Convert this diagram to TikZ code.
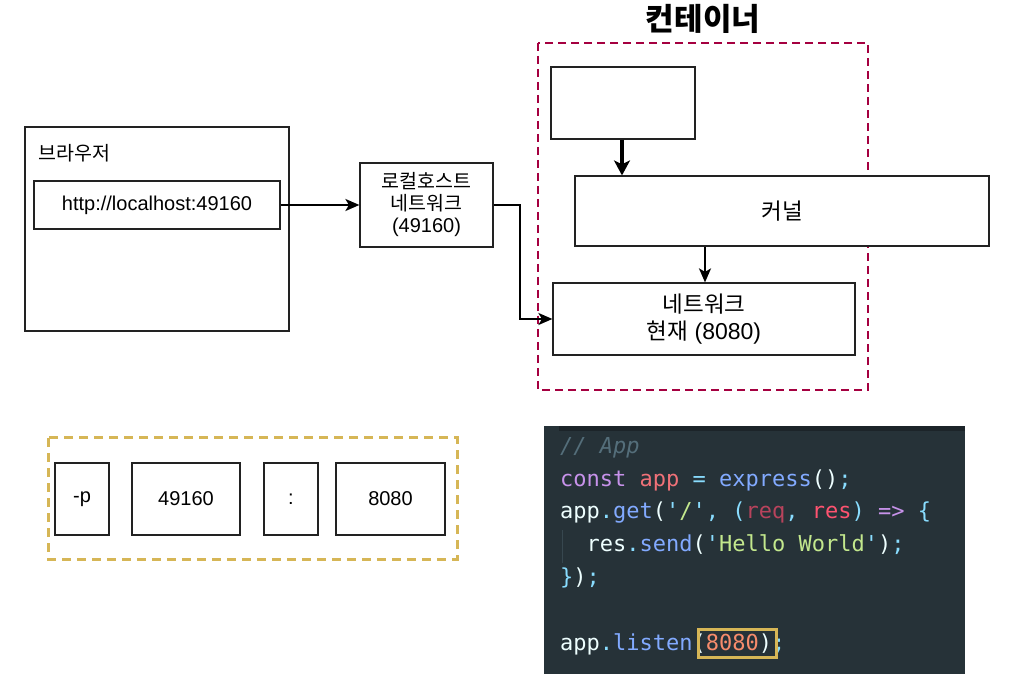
\documentclass[tikz,border=0pt]{standalone}
\usepackage{fontspec}
\setmainfont{Liberation Sans}
\newfontfamily\kr{Noto Sans CJK KR}
\newfontfamily\codefont{DejaVu Sans Mono}
\usetikzlibrary{arrows.meta}

\definecolor{boxline}{HTML}{222222}
\definecolor{ctnr}{HTML}{A50040}
\definecolor{gold}{HTML}{D6B656}
\definecolor{panel}{HTML}{263238}
\definecolor{panelbar}{HTML}{1C2429}
\definecolor{guide}{HTML}{37474F}
\definecolor{cmt}{HTML}{546E7A}
\definecolor{kw}{HTML}{C792EA}
\definecolor{var}{HTML}{F07178}
\definecolor{pn}{HTML}{89DDFF}
\definecolor{fn}{HTML}{82AAFF}
\definecolor{wt}{HTML}{EEFFFF}
\definecolor{str}{HTML}{C3E88D}
\definecolor{rq}{HTML}{B8435C}
\definecolor{rs}{HTML}{FF5370}
\definecolor{num}{HTML}{F78C6C}

% coloured code token
\newcommand{\tok}[2]{{\color{#1}#2}}
% Korean text at a given size
\newcommand{\hg}[2]{{\kr\fontsize{#1}{#1}\selectfont #2}}

\tikzset{
  box/.style={draw=boxline, line width=1.2pt, fill=white, rectangle, inner sep=0pt},
  lbl/.style={font=\fontsize{20}{24}\selectfont},
  krlbl/.style={font=\kr\fontsize{19.5}{24}\selectfont},
  link/.style={line width=2pt, -{Stealth[length=14pt,width=12pt,inset=3.5pt]}},
  heavy/.style={line width=4pt, -{Stealth[length=15pt,width=16pt,inset=4pt]}},
  codeline/.style={anchor=base west, inner sep=0pt, text=wt,
    font=\codefont\fontsize{22}{26}\selectfont},
}

\begin{document}
\begin{tikzpicture}[x=1pt,y=-1pt]
\useasboundingbox (0,0) rectangle (1015,684);

% --- browser side ---
\node[box, minimum width=264pt, minimum height=204pt] (browser) at (157,229) {};
\node[krlbl, anchor=west] (browserlbl) at (35,153) {브라우저};
\node[box, lbl, minimum width=246pt, minimum height=48pt] (url) at (157,205) {http://localhost:49160};

\node[box, minimum width=133pt, minimum height=84pt, align=center,
      font=\fontsize{20}{22}\selectfont] (lhost) at (426.5,205)
      {\hg{19.5}{로컬호스트}\\\hg{19.5}{네트워크}\\(49160)};

% --- container ---
\draw[ctnr, line width=2pt, dash pattern=on 8pt off 5pt] (538,43) rectangle (868,390);
\node[font=\kr\bfseries\fontsize{31}{34}\selectfont] (title) at (703,19) {컨테이너};

\node[box, minimum width=144pt, minimum height=72pt] (proc) at (623,103) {};
\node[box, minimum width=414pt, minimum height=70pt, font=\kr\fontsize{22.5}{26}\selectfont] (kernel) at (782,211) {커널};
\node[box, minimum width=302pt, minimum height=72pt, align=center,
      font=\fontsize{23}{27}\selectfont] (net) at (704,319)
      {\hg{22.5}{네트워크}\\\hg{22.5}{현재} (8080)};

\coordinate (turn) at (520,205);
\draw[link] (url.east) -- (lhost.west);
\draw[link] (lhost.east) -- (turn) |- (net.west);
\draw[heavy] (proc.south -| 622,0) -- (kernel.north -| 622,0);
\draw[link] (kernel.south -| 705,0) -- (net.north -| 705,0);

% --- port mapping ---
\draw[gold, line width=3pt, dash pattern=on 9pt off 6pt] (48,438) rectangle (457,559);
\node[box, lbl, minimum width=54pt, minimum height=72pt] (flag) at (82,499) {-p};
\node[box, lbl, minimum width=108pt, minimum height=72pt] (hostport) at (186,499) {49160};
\node[box, lbl, minimum width=54pt, minimum height=72pt] (colon) at (291,499) {:};
\node[box, lbl, minimum width=109pt, minimum height=72pt] (ctport) at (390.5,499) {8080};

% --- code panel ---
\fill[panel] (544,426) rectangle (965,674);
\fill[panelbar] (559,426) rectangle (965,431);
\draw[guide, line width=1pt] (562,530) -- (562,563);

\node[codeline] (c1) at (560,453.3) {\tok{cmt}{\itshape // App}};
\node[codeline] (c2) at (560,486.1) {\tok{kw}{const} \tok{var}{app} \tok{pn}{=} \tok{fn}{express}\tok{wt}{()}\tok{pn}{;}};
\node[codeline] (c3) at (560,518.9) {\tok{wt}{app}\tok{pn}{.}\tok{fn}{get}\tok{wt}{(}\tok{pn}{\symbol{39}}\tok{str}{/}\tok{pn}{\symbol{39}}\tok{pn}{,} \tok{pn}{(}\tok{rq}{req}\tok{pn}{,} \tok{rs}{res}\tok{pn}{)} \tok{kw}{=>} \tok{pn}{\{}};
\node[codeline] (c4) at (586.5,551.7) {\tok{wt}{res}\tok{pn}{.}\tok{fn}{send}\tok{wt}{(}\tok{pn}{\symbol{39}}\tok{str}{Hello World}\tok{pn}{\symbol{39}}\tok{wt}{)}\tok{pn}{;}};
\node[codeline] (c5) at (560,584.5) {\tok{pn}{\}}\tok{wt}{)}\tok{pn}{;}};
\node[codeline] (c6) at (560,650.1) {\tok{wt}{app}\tok{pn}{.}\tok{fn}{listen}\tok{wt}{(}\tok{num}{8080}\tok{wt}{)}\tok{pn}{;}};

\draw[gold, line width=3pt] (698,629) rectangle (776,657);
\end{tikzpicture}
\end{document}
